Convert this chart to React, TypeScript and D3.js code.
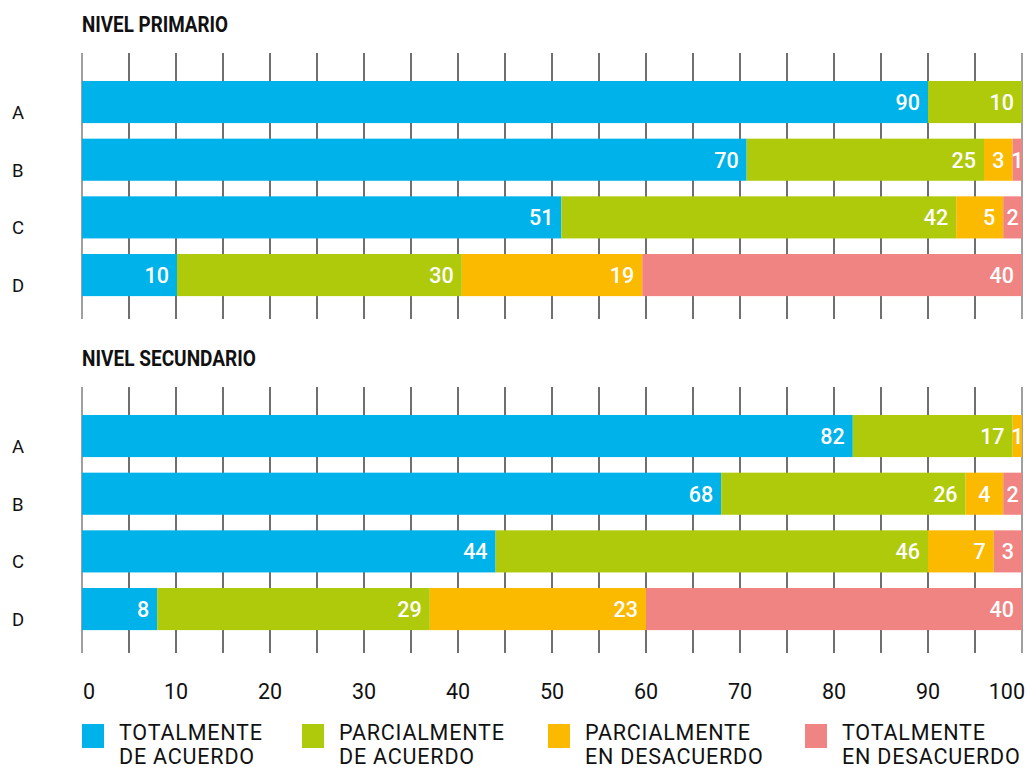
import React from "react";
import * as d3 from "d3";

const categories = ["A", "B", "C", "D"];
const seriesNames = [
  "TOTALMENTE\nDE ACUERDO",
  "PARCIALMENTE\nDE ACUERDO",
  "PARCIALMENTE\nEN DESACUERDO",
  "TOTALMENTE\nEN DESACUERDO",
];
const colors = ["#00b2ea", "#afca0b", "#fbba00", "#f08482"];
const primario = [
  [90, 10, 0, 0],
  [70, 25, 3, 1],
  [51, 42, 5, 2],
  [10, 30, 19, 40],
];
const secundario = [
  [82, 17, 1, 0],
  [68, 26, 4, 2],
  [44, 46, 7, 3],
  [8, 29, 23, 40],
];
const panelTitles = ["NIVEL PRIMARIO", "NIVEL SECUNDARIO"];
const xTicks = [0, 10, 20, 30, 40, 50, 60, 70, 80, 90, 100];
const gridTicks = d3.range(0, 101, 5);

const W = 1028;
const H = 767;

export default function App() {
  const x = d3.scaleLinear().domain([0, 100]).range([82, 1022]);
  const panels = [
    { title: panelTitles[0], data: primario, off: 0 },
    { title: panelTitles[1], data: secundario, off: 334 },
  ];
  const labelFont = "Roboto, 'DejaVu Sans', sans-serif";
  return (
    <svg
      width={W}
      height={H}
      style={{ position: "absolute", left: 0, top: 0, background: "#fff" }}
    >
      {panels.map((p, pi) => {
        const y = d3
          .scaleBand<string>()
          .domain(categories)
          .range([73.2 + p.off, 303.9 + p.off])
          .paddingInner(0.27)
          .paddingOuter(0.135);
        return (
          <g key={pi}>
            <text
              x={82}
              y={32 + p.off}
              fontFamily={labelFont}
              fontWeight={700}
              fontSize={22}
              textLength={pi === 0 ? 146 : 174}
              lengthAdjust="spacingAndGlyphs"
              fill="#111"
            >
              {p.title}
            </text>
            {gridTicks.map((t) => (
              <line
                key={t}
                x1={x(t)}
                x2={x(t)}
                y1={53 + p.off}
                y2={319 + p.off}
                stroke={t === 0 || t === 100 ? "#777" : "#333"}
                strokeWidth={1.4}
              />
            ))}
            {categories.map((c, ci) => {
              const row = p.data[ci];
              const total = d3.sum(row);
              const stacked = d3.cumsum(row.map((v) => (v / total) * 100));
              const by = y(c)!;
              const bh = y.bandwidth();
              return (
                <g key={c}>
                  <text
                    x={12}
                    y={by + bh / 2 + 17}
                    fontFamily={labelFont}
                    fontSize={18.5}
                    fill="#111"
                  >
                    {c}
                  </text>
                  {row.map((v, si) => {
                    if (v === 0) return null;
                    const x0 = x(si === 0 ? 0 : stacked[si - 1]);
                    const x1 = x(stacked[si]);
                    const w = x1 - x0;
                    const centered = w < 40;
                    return (
                      <g key={si}>
                        <rect
                          x={x0}
                          y={by}
                          width={w}
                          height={bh}
                          fill={colors[si]}
                        />
                        <text
                          x={centered ? (x0 + x1) / 2 : x1 - 8}
                          y={by + bh / 2 + 8}
                          textAnchor={centered ? "middle" : "end"}
                          fontFamily={labelFont}
                          fontWeight={500}
                          fontSize={21.5}
                          fill="#fff"
                        >
                          {v}
                        </text>
                      </g>
                    );
                  })}
                </g>
              );
            })}
          </g>
        );
      })}
      {xTicks.map((t, i) => (
        <text
          key={t}
          x={i === 0 ? x(t) + 1 : x(t)}
          y={699}
          textAnchor={i === 0 ? "start" : i === xTicks.length - 1 ? "end" : "middle"}
          fontFamily={labelFont}
          fontSize={21.5}
          fill="#111"
          dx={i === xTicks.length - 1 ? 3 : 0}
        >
          {t}
        </text>
      ))}
      {seriesNames.map((s, i) => {
        const lx = [82, 302, 548, 805][i];
        const lines = s.split("\n");
        return (
          <g key={s}>
            <rect x={lx} y={724} width={22} height={24} fill={colors[i]} />
            {lines.map((ln, li) => (
              <text
                key={li}
                x={lx + 37}
                y={740 + li * 23.5}
                fontFamily={labelFont}
                fontSize={21.5}
                letterSpacing={0.8}
                fill="#111"
              >
                {ln}
              </text>
            ))}
          </g>
        );
      })}
    </svg>
  );
}
